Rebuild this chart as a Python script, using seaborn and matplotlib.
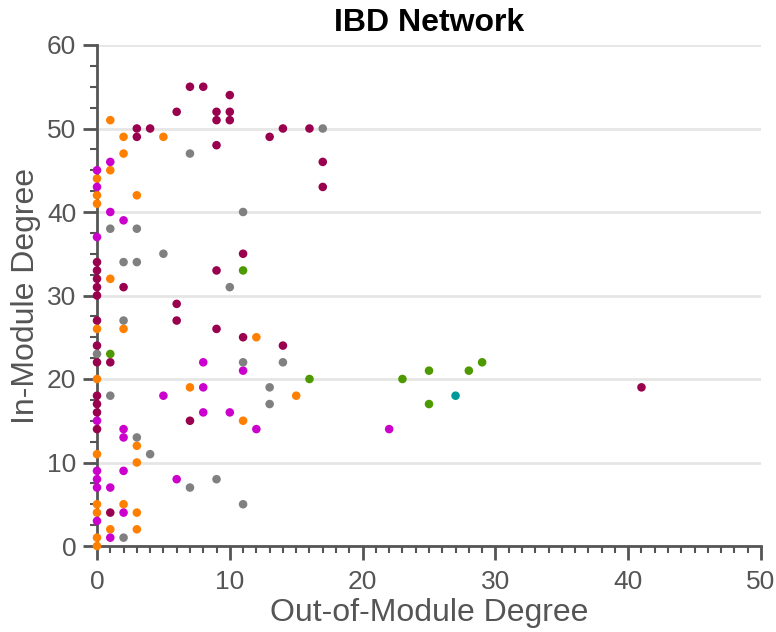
import matplotlib
matplotlib.use("Agg")
import matplotlib.pyplot as plt
from matplotlib.ticker import MultipleLocator
import pandas as pd
import seaborn as sns

# Out-of-module / in-module degree per node, grouped by module
mod1_out = [7, 8, 10, 6, 9, 10, 9, 10, 3, 4, 14, 16, 3, 13, 9, 17, 17, 11, 0, 0, 9, 0, 0, 2, 0, 6, 0, 6, 9, 11, 14, 0, 0, 1, 0, 0, 0, 7, 0, 1, 41]
mod1_in = [55, 55, 54, 52, 52, 52, 51, 51, 50, 50, 50, 50, 49, 49, 48, 46, 43, 35, 34, 33, 33, 32, 31, 31, 30, 29, 27, 27, 26, 25, 24, 24, 22, 22, 18, 17, 16, 15, 14, 4, 19]

mod2_out = [1, 2, 5, 2, 1, 0, 0, 3, 0, 1, 0, 2, 12, 0, 7, 15, 11, 3, 0, 3, 0, 2, 0, 3, 1, 3, 0, 0]
mod2_in = [51, 49, 49, 47, 45, 44, 42, 42, 41, 32, 26, 26, 25, 20, 19, 18, 15, 12, 11, 10, 5, 5, 4, 4, 2, 2, 1, 0]

mod3_out = [1, 0, 0, 1, 2, 0, 8, 11, 8, 5, 8, 10, 0, 2, 12, 22, 2, 0, 2, 0, 6, 0, 1, 0, 2, 1]
mod3_in = [46, 45, 43, 40, 39, 37, 22, 21, 19, 18, 16, 16, 15, 14, 14, 14, 13, 9, 9, 8, 8, 7, 7, 3, 4, 1]

mod4_out = [7, 17, 11, 1, 3, 5, 2, 3, 10, 2, 0, 11, 14, 13, 1, 13, 3, 4, 9, 7, 11, 2]
mod4_in = [47, 50, 40, 38, 38, 35, 34, 34, 31, 27, 23, 22, 22, 19, 18, 17, 13, 11, 8, 7, 5, 1]

mod5_out = [11, 1, 16, 23, 25, 25, 28, 29]
mod5_in = [33, 23, 20, 20, 21, 17, 21, 22]

mod6_out = [27]
mod6_in = [18]

modules = ["Module 1", "Module 2", "Module 3", "Module 4", "Module 5", "Module 6"]
colors = ["#99004d", "#ff8000", "#cc00cc", "#808080", "#4d9900", "#009999"]

outs = [mod1_out, mod2_out, mod3_out, mod4_out, mod5_out, mod6_out]
ins = [mod1_in, mod2_in, mod3_in, mod4_in, mod5_in, mod6_in]
rows = []
for name, xs, ys in zip(modules, outs, ins):
    for a, b in zip(xs, ys):
        rows.append({"out": a, "in": b, "module": name})
df = pd.DataFrame(rows)

sns.set_theme(style="white")
plt.rcParams["font.family"] = ["Liberation Sans", "DejaVu Sans"]

fig = plt.figure(figsize=(7.76, 6.32), dpi=100)
ax = fig.add_axes([97 / 776, 86 / 632, 664 / 776, 501 / 632])

sns.scatterplot(data=df, x="out", y="in", hue="module", hue_order=modules,
                palette=colors, s=38, edgecolor="none", linewidth=0,
                legend=False, ax=ax, clip_on=False, zorder=3)

ax.set_xlim(0, 50)
ax.set_ylim(0, 60)
ax.xaxis.set_major_locator(MultipleLocator(10))
ax.xaxis.set_minor_locator(MultipleLocator(1))
ax.yaxis.set_major_locator(MultipleLocator(10))
ax.yaxis.set_minor_locator(MultipleLocator(2.5))

ax.yaxis.grid(True, which="major", color="#e6e6e6", linewidth=2.0)
ax.xaxis.grid(False)
ax.set_axisbelow(True)

for side in ["top", "right"]:
    ax.spines[side].set_visible(False)
for side in ["left", "bottom"]:
    ax.spines[side].set_color("#555555")
    ax.spines[side].set_linewidth(2.0)

ax.tick_params(which="major", direction="out", length=10, width=2.0,
               color="#555555", labelsize=19, labelcolor="#555555", pad=5,
               left=True, bottom=True)
ax.tick_params(axis="x", which="major", pad=7)
ax.tick_params(which="minor", direction="out", length=5, width=1.5,
               color="#555555", left=True, bottom=True)

ax.set_xlabel("Out-of-Module Degree", fontsize=23, color="#555555", labelpad=3)
ax.set_ylabel("In-Module Degree", fontsize=23, color="#555555", labelpad=4)
ax.set_title("IBD Network", fontsize=23, fontweight="bold", color="black", pad=10)

fig.savefig("out.png", dpi=100)
